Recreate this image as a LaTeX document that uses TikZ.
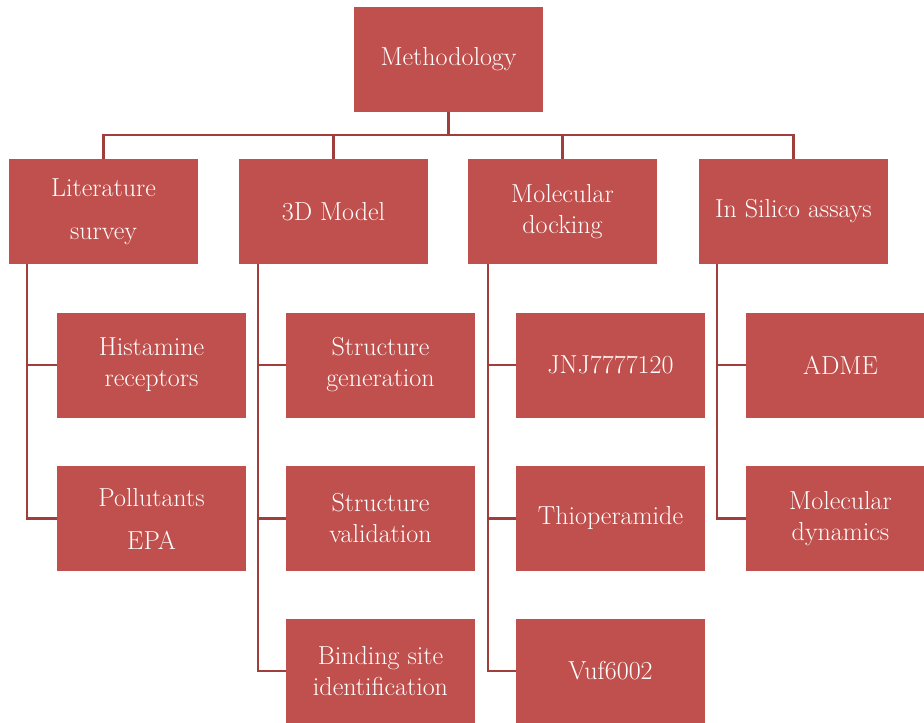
\documentclass[tikz,border=0pt]{standalone}
\usepackage{tikz}
\usetikzlibrary{positioning}
\definecolor{boxred}{HTML}{C0504D}
\definecolor{linered}{RGB}{160,62,60}

\begin{document}
\begin{tikzpicture}[x=1pt,y=-1pt,
	box/.style={fill=boxred,text=white,minimum width=189pt,minimum height=105pt,inner sep=0pt,align=center,font=\fontsize{26}{31}\selectfont},
	conn/.style={draw=linered,line width=2.2pt}]
	\useasboundingbox (0,0) rectangle (924,723);
	\node[box] (meth) at (448.5,59.5) {Methodology};
	\node[box] (lit) at (103.5,211.5) {Literature\\[12pt]survey};
	\node[box] (model) at (333.5,211.5) {3D Model};
	\node[box] (dock) at (562.5,211.5) {Molecular\\docking};
	\node[box] (silico) at (793.5,211.5) {In Silico assays};
	\node[box] (hist) at (151.5,365) {Histamine\\receptors};
	\node[box] (poll) at (151.5,518.5) {Pollutants\\[12pt]EPA};
	\node[box] (sgen) at (380.5,365) {Structure\\generation};
	\node[box] (sval) at (380.5,518.5) {Structure\\validation};
	\node[box] (bind) at (380.5,671) {Binding site\\identification};
	\node[box] (jnj) at (610.5,365) {JNJ7777120};
	\node[box] (thio) at (610.5,518.5) {Thioperamide};
	\node[box] (vuf) at (610.5,671) {Vuf6002};
	\node[box] (adme) at (840.5,365) {ADME};
	\node[box] (md) at (840.5,518.5) {Molecular\\dynamics};
	\coordinate (bus) at (448.5,135);
	\draw[conn] (meth.south) -- (bus);
	\draw[conn] (bus) -| (lit.north);
	\draw[conn] (bus) -| (model.north);
	\draw[conn] (bus) -| (dock.north);
	\draw[conn] (bus) -| (silico.north);
	\draw[conn] ([xshift=18pt]lit.south west) |- (hist.west);
	\draw[conn] ([xshift=18pt]lit.south west) |- (poll.west);
	\draw[conn] ([xshift=19pt]model.south west) |- (sgen.west);
	\draw[conn] ([xshift=19pt]model.south west) |- (sval.west);
	\draw[conn] ([xshift=19pt]model.south west) |- (bind.west);
	\draw[conn] ([xshift=20pt]dock.south west) |- (jnj.west);
	\draw[conn] ([xshift=20pt]dock.south west) |- (thio.west);
	\draw[conn] ([xshift=20pt]dock.south west) |- (vuf.west);
	\draw[conn] ([xshift=18pt]silico.south west) |- (adme.west);
	\draw[conn] ([xshift=18pt]silico.south west) |- (md.west);
\end{tikzpicture}
\end{document}
